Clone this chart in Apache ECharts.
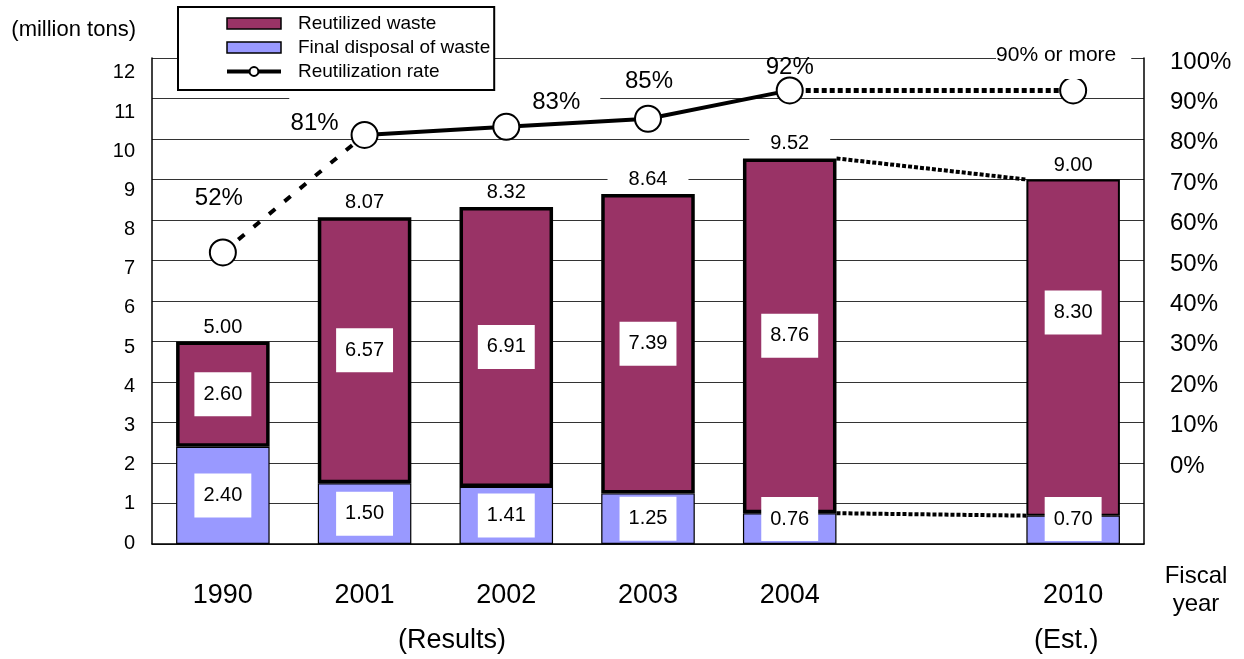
<!DOCTYPE html>
<html><head><meta charset="utf-8">
<script src="https://cdn.jsdelivr.net/npm/echarts@6/dist/echarts.min.js"></script>
<style>html,body{margin:0;padding:0;background:#fff}#c{width:1244px;height:659px}</style>
</head><body><div id="c"></div>
<script>
// ---- data ----
const years      = ['1990', '2001', '2002', '2003', '2004', '', '2010'];
const reutilized = [2.60, 6.57, 6.91, 7.39, 8.76, null, 8.30];
const disposal   = [2.40, 1.50, 1.41, 1.25, 0.76, null, 0.70];
// rate as plotted in the picture (the 2010 target point is drawn level with 2004)
const rate       = [52, 81, 83, 85, 92, null, 92];
const rateLabels = ['52%', '81%', '83%', '85%', '92%', '', '90% or more'];
const leftTicks  = [0, 1, 2, 3, 4, 5, 6, 7, 8, 9, 10, 11, 12];
const rightTicks = [0, 10, 20, 30, 40, 50, 60, 70, 80, 90, 100];
const groupNotes = ['(Results)', '(Est.)'];
const lastResult = 4, estimate = 6;

// ---- derived ----
const totals = reutilized.map((v, i) => v == null ? null : +(v + disposal[i]).toFixed(2));
const seg = (a, b) => rate.map((v, i) => (i >= a && i <= b) ? v : null);

// ---- styles ----
const FONT = 'Liberation Sans, Arial, sans-serif';
const rateLabelStyle = [
  { offset: [-4, -54] },
  { offset: [-50, -12] },
  { offset: [-61.5, -24], backgroundColor: '#fff', padding: [0, 20, 0, 243], lineHeight: 16 },
  { offset: [1, -37] },
  { offset: [0, -23] },
  {},
  { offset: [-9.5, -35.5], backgroundColor: '#fff', padding: [13, 15, 13, 0], fontSize: 21, lineHeight: 22 }
];
const boxLabel = { show: true, color: '#000', fontSize: 20, lineHeight: 20, backgroundColor: '#fff', padding: [12, 9], formatter: p => p.value.toFixed(2) };

const chart = echarts.init(document.getElementById('c'), null, { renderer: 'canvas' });
const option = {
  animation: false,
  backgroundColor: '#fff',
  textStyle: { fontFamily: FONT, color: '#000' },
  grid: { left: 152, right: 100, top: 58, bottom: 115 },
  legend: {
    orient: 'vertical', left: 178, top: 7,
    backgroundColor: '#fff', borderColor: '#000', borderWidth: 2, borderRadius: 0,
    padding: [7, 4, 9, 47], itemGap: 5, itemWidth: 54, itemHeight: 11,
    textStyle: { fontSize: 19, lineHeight: 19, color: '#000', padding: [0, 0, 0, 12] },
    data: [
      { name: 'Reutilized waste', icon: 'rect', itemStyle: { borderWidth: 1.5 } },
      { name: 'Final disposal of waste', icon: 'rect', itemStyle: { borderWidth: 1.5 } },
      { name: 'Reutilization rate', lineStyle: { width: 4, color: '#000', opacity: 1 } }
    ]
  },
  xAxis: {
    type: 'category', data: years, boundaryGap: true,
    name: 'Fiscal\nyear', nameLocation: 'end', nameGap: 52,
    nameTextStyle: { fontSize: 24, lineHeight: 28, align: 'center', verticalAlign: 'top', padding: [18, 0, 0, 0], color: '#000' },
    axisLine: { lineStyle: { color: '#000', width: 1.5 } },
    axisTick: { inside: true, length: 10, lineStyle: { color: '#000' } },
    axisLabel: { fontSize: 27, margin: 38, color: '#000' },
    splitLine: { show: false }
  },
  yAxis: [
    {
      type: 'value', min: 0, max: 12, interval: 1, position: 'left',
      name: '(million tons)', nameLocation: 'end', nameGap: 28,
      nameTextStyle: { fontSize: 22, align: 'right', verticalAlign: 'middle', padding: [0, 16, 0, 0], color: '#000' },
      axisLine: { show: true, lineStyle: { color: '#000', width: 1.5 } },
      axisTick: { show: false },
      axisLabel: { show: false },
      splitLine: { lineStyle: { color: '#333', width: 1 } }
    },
    {
      type: 'value', min: -20, max: 100, interval: 10, position: 'right',
      axisLine: { show: true, lineStyle: { color: '#000', width: 1.5 } },
      axisTick: { show: false },
      axisLabel: { show: false },
      splitLine: { show: false }
    },
    {
      type: 'value', min: -0.0255, max: 12.382, position: 'left',
      axisLine: { show: false }, axisTick: { show: false }, splitLine: { show: false },
      axisLabel: { fontSize: 20, margin: 17, color: '#000', customValues: leftTicks, formatter: v => String(v) }
    },
    {
      type: 'value', min: -19.31, max: 100.99, position: 'right',
      axisLine: { show: false }, axisTick: { show: false }, splitLine: { show: false },
      axisLabel: { fontSize: 24, margin: 26, color: '#000', customValues: rightTicks, formatter: v => v + '%' }
    }
  ],
  graphic: [
    { type: 'text', left: 398, top: 627, style: { text: groupNotes[0], font: '27px ' + FONT, fill: '#000' } },
    { type: 'text', left: 1034, top: 627, style: { text: groupNotes[1], font: '27px ' + FONT, fill: '#000' } }
  ],
  series: [
    {
      name: 'Final disposal of waste', type: 'bar', stack: 'w', barWidth: '66%', z: 2,
      itemStyle: { color: '#9999FF', borderColor: '#000', borderWidth: 1.2 },
      label: Object.assign({}, boxLabel),
      data: disposal.map(v => v == null ? null : {
        value: v,
        label: v < 1 ? { position: 'insideBottom', distance: 3 } : { position: 'inside' }
      })
    },
    {
      name: 'Reutilized waste', type: 'bar', stack: 'w', barWidth: '66%', z: 2,
      itemStyle: { color: '#993366', borderColor: '#000', borderWidth: 3.5 },
      label: Object.assign({ position: 'inside' }, boxLabel),
      data: reutilized.map((v, i) => v == null ? null : (i === estimate ? {
        value: v, itemStyle: { borderWidth: 2 }, label: { offset: [0, -35] }
      } : v))
    },
    {
      name: 'totals', type: 'scatter', symbolSize: 1, z: 6, silent: true,
      itemStyle: { color: 'rgba(0,0,0,0)', opacity: 1 },
      label: { show: true, position: 'top', distance: 2, fontSize: 20, lineHeight: 20, color: '#000', opacity: 1,
        backgroundColor: '#fff', padding: [2, 21], formatter: p => p.value.toFixed(2) },
      data: totals
    },
    {
      name: 'series lines', type: 'custom', coordinateSystem: 'cartesian2d', z: 3, silent: true,
      encode: { x: [0, 2], y: [1, 3] },
      renderItem: function (params, api) {
        const p1 = api.coord([api.value(0), api.value(1)]);
        const p2 = api.coord([api.value(2), api.value(3)]);
        const hw = api.size([1, 0])[0] * 0.33;
        return { type: 'line', shape: { x1: p1[0] + hw, y1: p1[1], x2: p2[0] - hw, y2: p2[1] },
          style: { stroke: '#000', lineWidth: 4, lineDash: [4, 2] } };
      },
      data: [
        [lastResult, totals[lastResult], estimate, totals[estimate]],
        [lastResult, disposal[lastResult], estimate, disposal[estimate]]
      ]
    },
    {
      name: 'rate dashed', type: 'line', yAxisIndex: 1, z: 4, silent: true, showSymbol: false, symbol: 'none',
      lineStyle: { color: '#000', width: 4, type: [8, 12] }, data: seg(0, 1)
    },
    {
      name: 'rate solid', type: 'line', yAxisIndex: 1, z: 4, silent: true, showSymbol: false, symbol: 'none',
      lineStyle: { color: '#000', width: 4 }, data: seg(1, lastResult)
    },
    {
      name: 'rate dotted', type: 'line', yAxisIndex: 1, z: 4, silent: true, showSymbol: false, symbol: 'none',
      connectNulls: true,
      lineStyle: { color: '#000', width: 5, type: [5, 3] }, data: seg(lastResult, estimate)
    },
    {
      name: 'Reutilization rate', type: 'line', yAxisIndex: 1, z: 5,
      symbol: 'circle', symbolSize: 26, showAllSymbol: true,
      lineStyle: { width: 0, color: '#000' },
      itemStyle: { color: '#fff', borderColor: '#000', borderWidth: 2 },
      label: { show: true, position: 'inside', fontSize: 24, color: '#000' },
      data: rate.map((v, i) => v == null ? null : {
        value: v,
        label: Object.assign({ formatter: rateLabels[i] }, rateLabelStyle[i])
      })
    }
  ]
};
chart.setOption(option);
</script>
</body></html>
